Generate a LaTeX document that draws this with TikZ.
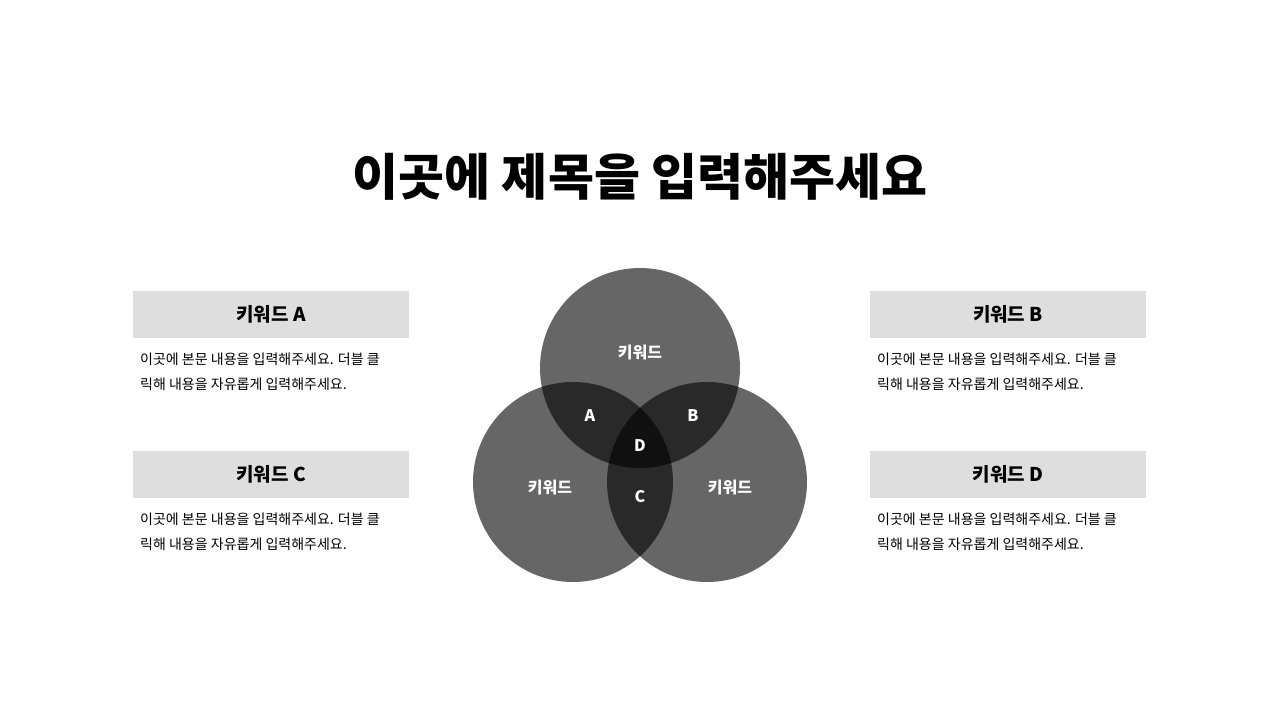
\documentclass[tikz,border=0pt]{standalone}
\usepackage{fontspec}
\setmainfont{Noto Sans CJK KR}
\tikzset{
 kbox/.style={fill=boxgray,draw=none,minimum width=276pt,minimum height=47pt,inner sep=0pt,font=\fontsize{19}{22}\selectfont\bfseries},
 body/.style={anchor=north west,align=left,inner sep=0pt,font=\fontsize{14}{24.5}\selectfont},
 venn/.style={fill=black,fill opacity=0.6,draw=none},
 vlab/.style={text=white,font=\fontsize{16}{18}\selectfont\bfseries}
}
\definecolor{boxgray}{HTML}{DEDEDE}
\begin{document}
\begin{tikzpicture}[x=1pt,y=-1pt]
\useasboundingbox (0,0) rectangle (1280,720);
\node[font=\fontsize{50}{56}\selectfont\bfseries] (title) at (640,177) {이곳에 제목을 입력해주세요};
\fill[venn] (640,368) circle (100);
\fill[venn] (573,482) circle (100);
\fill[venn] (707,482) circle (100);
\node[vlab] (t1) at (640,352) {키워드};
\node[vlab] (t2) at (550,487) {키워드};
\node[vlab] (t3) at (730,487) {키워드};
\node[vlab] (la) at (590,416) {A};
\node[vlab] (lb) at (693,416) {B};
\node[vlab] (ld) at (640,446) {D};
\node[vlab] (lc) at (640,497) {C};
\node[kbox] (ka) at (271,314.5) {키워드 A};
\node[kbox] (kc) at (271,474.5) {키워드 C};
\node[kbox] (kb) at (1008,314.5) {키워드 B};
\node[kbox] (kd) at (1008,474.5) {키워드 D};
\node[body] (ba) at (140,353) {이곳에 본문 내용을 입력해주세요. 더블 클\\릭해 내용을 자유롭게 입력해주세요.};
\node[body] (bc) at (140,513) {이곳에 본문 내용을 입력해주세요. 더블 클\\릭해 내용을 자유롭게 입력해주세요.};
\node[body] (bb) at (877,353) {이곳에 본문 내용을 입력해주세요. 더블 클\\릭해 내용을 자유롭게 입력해주세요.};
\node[body] (bd) at (877,513) {이곳에 본문 내용을 입력해주세요. 더블 클\\릭해 내용을 자유롭게 입력해주세요.};
\end{tikzpicture}
\end{document}
